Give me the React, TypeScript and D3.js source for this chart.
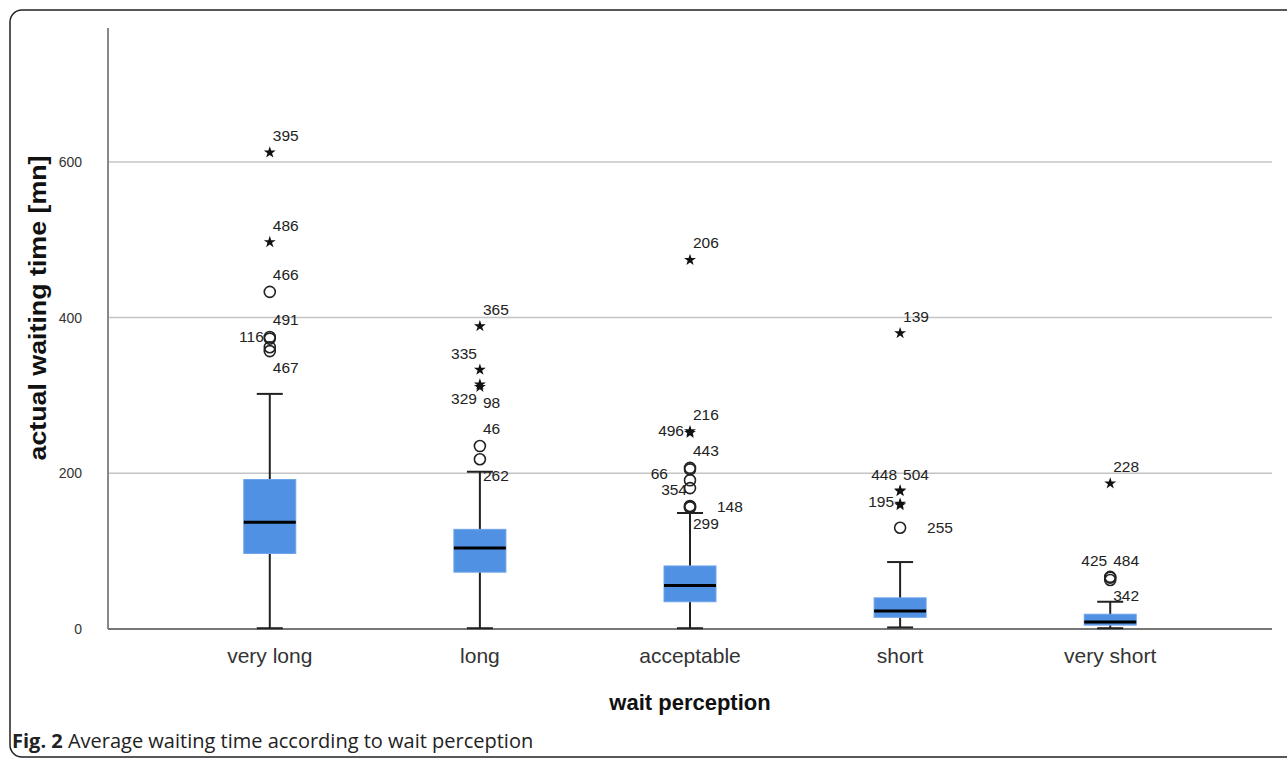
import React from 'react';
import * as d3 from 'd3';

const categories = ['very long', 'long', 'acceptable', 'short', 'very short'];

// box stats: lower whisker, Q1, median, Q3, upper whisker
const lowerWhisker = [1, 1, 1, 2, 1];
const q1 = [97, 73, 35, 15, 5];
const median = [137, 104, 56, 23, 9];
const q3 = [192, 128, 81, 40, 19];
const upperWhisker = [302, 202, 149, 86, 35];

const yTicks = [0, 200, 400, 600];

// outliers: group, case id, value, marker, label placement
const outliers = [
  { g: 'very long', id: '395', v: 612, kind: 'star', at: 'ur' },
  { g: 'very long', id: '486', v: 497, kind: 'star', at: 'ur' },
  { g: 'very long', id: '466', v: 433, kind: 'circle', at: 'ur' },
  { g: 'very long', id: '491', v: 375, kind: 'circle', at: 'ur' },
  { g: 'very long', id: '116', v: 373, kind: 'circle', at: 'l' },
  { g: 'very long', id: '', v: 362, kind: 'circle', at: '' },
  { g: 'very long', id: '467', v: 357, kind: 'circle', at: 'dr' },
  { g: 'long', id: '365', v: 389, kind: 'star', at: 'ur' },
  { g: 'long', id: '335', v: 333, kind: 'star', at: 'ul' },
  { g: 'long', id: '329', v: 314, kind: 'star', at: 'dl' },
  { g: 'long', id: '98', v: 311, kind: 'star', at: 'dr' },
  { g: 'long', id: '46', v: 235, kind: 'circle', at: 'ur' },
  { g: 'long', id: '262', v: 218, kind: 'circle', at: 'dr' },
  { g: 'acceptable', id: '206', v: 474, kind: 'star', at: 'ur' },
  { g: 'acceptable', id: '216', v: 254, kind: 'star', at: 'ur' },
  { g: 'acceptable', id: '496', v: 252, kind: 'star', at: 'l' },
  { g: 'acceptable', id: '443', v: 207, kind: 'circle', at: 'ur' },
  { g: 'acceptable', id: '66', v: 205, kind: 'circle', at: 'fl' },
  { g: 'acceptable', id: '', v: 191, kind: 'circle', at: '' },
  { g: 'acceptable', id: '', v: 181, kind: 'circle', at: '' },
  { g: 'acceptable', id: '354', v: 158, kind: 'circle', at: 'ul' },
  { g: 'acceptable', id: '148', v: 157, kind: 'circle', at: 'r' },
  { g: 'acceptable', id: '299', v: 156, kind: 'circle', at: 'dr' },
  { g: 'short', id: '139', v: 380, kind: 'star', at: 'ur' },
  { g: 'short', id: '448', v: 178, kind: 'star', at: 'ul' },
  { g: 'short', id: '504', v: 177, kind: 'star', at: 'ur' },
  { g: 'short', id: '195', v: 161, kind: 'star', at: 'l' },
  { g: 'short', id: '', v: 159, kind: 'star', at: '' },
  { g: 'short', id: '255', v: 130, kind: 'circle', at: 'r' },
  { g: 'very short', id: '228', v: 187, kind: 'star', at: 'ur' },
  { g: 'very short', id: '425', v: 67, kind: 'circle', at: 'ul' },
  { g: 'very short', id: '484', v: 66, kind: 'circle', at: 'ur' },
  { g: 'very short', id: '342', v: 63, kind: 'circle', at: 'dr' },
];

const W = 1287;
const H = 761;
const plot = { left: 108, right: 1272, top: 28, bottom: 629 };
const boxColor = '#5191e3';
const font = '"Liberation Sans", Arial, sans-serif';

// label offsets relative to the marker (dx, dy of text centre, anchor)
const place = {
  ur: [3, -17, 'start'],
  ul: [-3, -16, 'end'],
  l: [-6, -2, 'end'],
  fl: [-22, 4, 'end'],
  dr: [3, 16, 'start'],
  dl: [-3, 14, 'end'],
  r: [27, 0, 'start'],
};

export default function App() {
  const x = d3.scalePoint<string>().domain(categories).range([plot.left, plot.right]).padding(0.77);
  const y = d3.scaleLinear().domain([0, 772]).range([plot.bottom, plot.top]);
  const star = d3.symbol().type(d3.symbolStar).size(44);
  const boxW = 52;
  const capW = 26;

  return (
    <div style={{ position: 'absolute', left: 0, top: 0 }}>
      <svg width={W} height={H} style={{ display: 'block', background: '#fff' }}>
        <rect x={10} y={10} width={W + 20} height={747} rx={12} fill="none" stroke="#222" strokeWidth={1.5} />

        {/* grid */}
        {yTicks.filter(t => t > 0).map(t => (
          <line key={t} x1={plot.left} x2={plot.right} y1={y(t)} y2={y(t)} stroke="#c4c4c4" strokeWidth={1.5} />
        ))}
        {yTicks.map(t => (
          <text key={'t' + t} x={82} y={y(t)} dy="0.35em" textAnchor="end" fontFamily={font} fontSize={14} fill="#333">
            {t}
          </text>
        ))}
        <line x1={plot.left} x2={plot.left} y1={plot.top} y2={plot.bottom} stroke="#888" strokeWidth={2} />
        <line x1={plot.left} x2={plot.right} y1={plot.bottom} y2={plot.bottom} stroke="#777" strokeWidth={2} />

        {/* boxes */}
        {categories.map((c, i) => {
          const cx = x(c)!;
          return (
            <g key={c}>
              <line x1={cx} x2={cx} y1={y(upperWhisker[i])} y2={y(lowerWhisker[i])} stroke="#222" strokeWidth={2} />
              <line x1={cx - capW / 2} x2={cx + capW / 2} y1={y(upperWhisker[i])} y2={y(upperWhisker[i])} stroke="#222" strokeWidth={2} />
              <line x1={cx - capW / 2} x2={cx + capW / 2} y1={y(lowerWhisker[i])} y2={y(lowerWhisker[i])} stroke="#222" strokeWidth={2} />
              <rect x={cx - boxW / 2} y={y(q3[i])} width={boxW} height={y(q1[i]) - y(q3[i])} fill={boxColor} stroke="#6fa4ea" strokeWidth={1} />
              <line x1={cx - boxW / 2} x2={cx + boxW / 2} y1={y(median[i])} y2={y(median[i])} stroke="#000" strokeWidth={3} />
              <text x={cx} y={663} textAnchor="middle" fontFamily={font} fontSize={21} fill="#333">{c}</text>
            </g>
          );
        })}

        {/* outliers */}
        {outliers.map((o, k) => {
          const cx = x(o.g)!;
          const cy = y(o.v);
          const p = place[o.at as keyof typeof place];
          return (
            <g key={k}>
              {o.kind === 'star' ? (
                <path d={star()!} transform={`translate(${cx},${cy})`} fill="#111" />
              ) : (
                <circle cx={cx} cy={cy} r={5.5} fill="none" stroke="#222" strokeWidth={1.6} />
              )}
              {p && o.id && (
                <text x={cx + (p[0] as number)} y={cy + (p[1] as number)} dy="0.35em" textAnchor={p[2] as string}
                  fontFamily={font} fontSize={15.5} fill="#222">
                  {o.id}
                </text>
              )}
            </g>
          );
        })}

        {/* titles */}
        <text transform="translate(46,308) rotate(-90)" textAnchor="middle" fontFamily={font} fontWeight="bold"
          fontSize={23} fill="#111" textLength={305} lengthAdjust="spacingAndGlyphs">
          actual waiting time [mn]
        </text>
        <text x={x('acceptable')} y={710} textAnchor="middle" fontFamily={font} fontWeight="bold" fontSize={22} fill="#111">
          wait perception
        </text>
        <text x={12} y={748} fontFamily='"Open Sans", "Noto Sans", sans-serif' fontSize={20} fill="#222">
          <tspan fontWeight="bold">Fig. 2</tspan> Average waiting time according to wait perception
        </text>
      </svg>
    </div>
  );
}
